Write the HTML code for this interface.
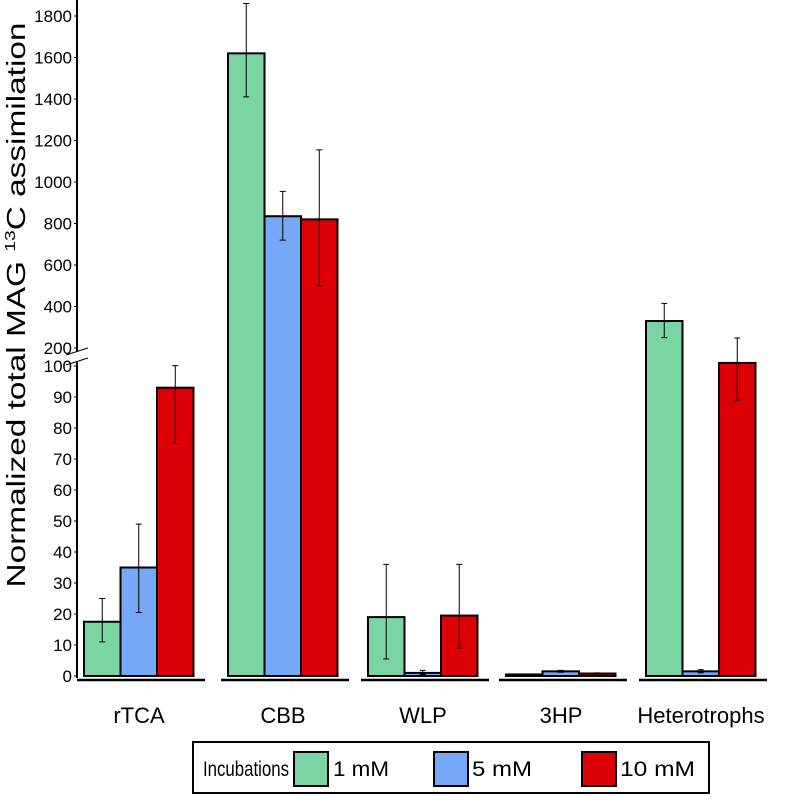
<!DOCTYPE html>
<html><head><meta charset="utf-8"><style>
body{margin:0;background:#fff;width:787px;height:795px;overflow:hidden}
svg text{font-family:"Liberation Sans",sans-serif;fill:#000}
</style></head><body>
<svg id="chart" width="787" height="795">
<text transform="translate(25,305) rotate(-90)" text-anchor="middle" font-size="26" textLength="565" lengthAdjust="spacingAndGlyphs">Normalized total MAG <tspan font-size="15" dy="-10">13</tspan><tspan dy="10">C assimilation</tspan></text>
<g id="axis"></g><g id="bars"></g>
<g>
<rect x="193" y="742" width="516" height="51" fill="#fff" stroke="#000" stroke-width="2"/>
<text x="203" y="776" font-size="21" textLength="86" lengthAdjust="spacingAndGlyphs">Incubations</text>
<rect x="294" y="752" width="34" height="34" fill="#7ad4a3" stroke="#000" stroke-width="2"/>
<text x="333" y="776" font-size="21" textLength="56" lengthAdjust="spacingAndGlyphs">1 mM</text>
<rect x="434" y="752" width="34" height="34" fill="#76a8f7" stroke="#000" stroke-width="2"/>
<text x="472" y="776" font-size="21" textLength="60" lengthAdjust="spacingAndGlyphs">5 mM</text>
<rect x="582" y="752" width="34" height="34" fill="#dc0006" stroke="#000" stroke-width="2"/>
<text x="620" y="776" font-size="21" textLength="75" lengthAdjust="spacingAndGlyphs">10 mM</text>
</g>
</svg>
<script>
const categories=["rTCA","CBB","WLP","3HP","Heterotrophs"];
const series=["1 mM","5 mM","10 mM"];
const colors=["#7ad4a3","#76a8f7","#dc0006"];
const vals1=[17.5,1620,19,0.5,330];
const vals5=[35,835,1,1.5,1.5];
const vals10=[93,820,19.5,0.8,117];
const lo1=[11,1410,5.5,0.5,250];const hi1=[25,1860,36,0.5,415];
const lo5=[20.5,720,0.5,1.2,1];const hi5=[49,955,1.8,1.8,2];
const lo10=[75,500,9,0.6,89];const hi10=[102,1155,36,1,248];
const lowTicks=[0,10,20,30,40,50,60,70,80,90,100];
const highTicks=[200,400,600,800,1000,1200,1400,1600,1800];
const NS="http://www.w3.org/2000/svg";
function y(v){if(v<=100)return 676-v*3.1;if(v>=200)return 348-(v-200)*0.2075;return 366-(v-100)/100*18;}
function mk(t,a,p){const e=document.createElementNS(NS,t);for(const k in a)e.setAttribute(k,a[k]);p.appendChild(e);return e;}
const ax=document.getElementById('axis'),bg=document.getElementById('bars');
const AX=77;
let l=mk('line',{x1:AX,y1:0,x2:AX,y2:351,stroke:'#000','stroke-width':2},ax);

l=mk('line',{x1:AX,y1:362,x2:AX,y2:678,stroke:'#000','stroke-width':2},ax);

mk('line',{x1:66,y1:355,x2:88,y2:348,stroke:'#000','stroke-width':1},ax);
mk('line',{x1:66,y1:365,x2:88,y2:358,stroke:'#000','stroke-width':1},ax);
lowTicks.concat(highTicks).forEach(v=>{
 mk('line',{x1:AX-3,y1:y(v),x2:AX,y2:y(v),stroke:'#000'},ax);
 const t=mk('text',{x:AX-5,y:y(v)+6,'text-anchor':'end','font-size':17},ax);t.textContent=v;
 
});
const gx=[84,228,368,506,646],bw=36.5;
const V=[vals1,vals5,vals10],LO=[lo1,lo5,lo10],HI=[hi1,hi5,hi10];
categories.forEach((c,i)=>{
 const seg=mk('line',{x1:gx[i]-7,y1:680,x2:gx[i]+121,y2:680,stroke:'#000','stroke-width':2.5},ax);
 
 const t=mk('text',{x:gx[i]+55,y:723,'text-anchor':'middle','font-size':22},ax);t.textContent=c;
 
 for(let s=0;s<3;s++){
  const x=gx[i]+s*bw,yt=y(V[s][i]);
  const r=mk('rect',{x:x,y:yt,width:bw,height:Math.max(676-yt,1),fill:colors[s],stroke:'#000','stroke-width':2},bg);
  
  const cx=x+bw/2,y1=y(HI[s][i]),y2=y(LO[s][i]);
  const e=mk('path',{d:`M${cx} ${y1}V${y2}M${cx-3} ${y1}H${cx+3}M${cx-3} ${y2}H${cx+3}`,stroke:'#000','stroke-width':1,fill:'none'},bg);
  
 }
});
</script>
</body></html>
